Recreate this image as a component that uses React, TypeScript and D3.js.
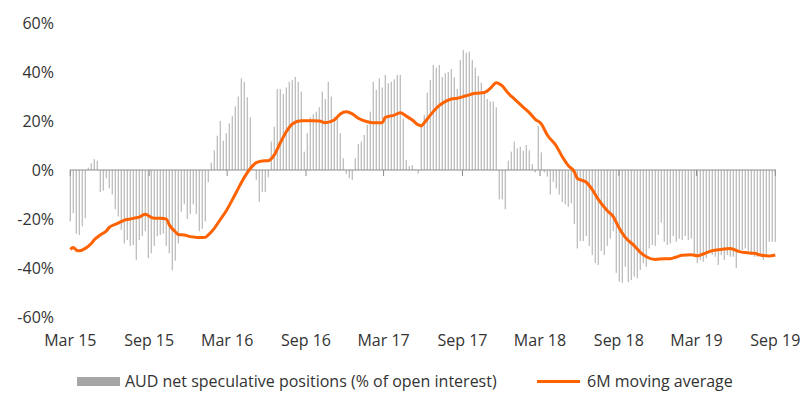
import React from "react";
import * as d3 from "d3";

// weekly CFTC AUD net speculative positions, % of open interest
// (first bar is 3 Mar 2015, one value per week)
const netPosA = [
  -21, -17.6, -26, -26.5, -23, -19.7, 1, 2.7, 4.4, 3.8,
  -9, -8.4, -3.4, -7.5, -10, -16, -19, -24.5, -30, -28.6,
  -31, -30.6, -36.7, -28.6, -27, -25, -36, -34, -31, -27,
  -26.5, -26, -31, -34, -41, -37, -30, -17, -14, -20,
  -18, -14, -18, -25, -24, -21, -5, 3, 8, 14,
  20, 12, 15, 19, 22, 26, 30,
];
const netPosB = [
  37.4, 36, 29.7, 21.5, 0.5, -4, -13, -9, -9, -3,
  11.6, 17.7, 33, 33, 31, 33.7, 36, 36.7, 38, 36,
  32, 7.5, 15, 21.5, 22.7, 23.8, 25.6, 32, 29, 36,
  30, 21.8, 22, 15, 4.8, -1.6, -3.4, -4, 4.8, 10.6,
  11.6, 14.3, 18.4, 23.8, 36, 32.7, 37.4, 33.7, 38.8, 35.4,
  36, 37, 38.8, 38.8, 21, 4, 1.6, 2, 0.3, -1.4,
];
const netPosC = [
  18, 22.4, 31.6, 36.7, 42.9, 41.8, 42.9, 38, 39.5, 40,
  41.2, 37.8, 33, 44.9, 49, 47.9, 48.3, 45, 41.8, 38.4,
  35.6, 32, 29, 28, 28, 25.6, -12, -12, -16, 3.8,
  7.5, 11.6, 8.8, 9.5, 7.8, 10.2, 8, 2.4, -1, 18,
  7.2, -1, -2.7, -10, -4.8, -7.5, -10, -13, -14, -15,
  -13.6, -22, -32,
];
const netPosD = [
  -29, -29, -27, -31, -34.7, -38, -38.8, -33, -34.7, -31,
  -28, -25, -42, -45.6, -46, -39.5, -45.8, -44.9, -43.5, -44.2,
  -40.8, -38, -39.5, -32, -30.6, -31, -26.5, -21.5, -29.3, -30.6,
  -30, -27, -29.3, -28, -28.6, -27, -28.6, -28, -35.4, -38,
  -36.7, -37.4, -36, -33, -34.7, -35.4, -38.8, -34.7, -36.7, -34.7,
  -35.4, -35.4, -40, -33, -32.7, -32, -33, -34.7, -35.4, -35.4,
  -34.7, -36.7, -34.7, -29.3, -29.3, -29.3,
];

// 6M moving average at these week numbers
const maWeek = [
  0, 1, 2, 3, 5, 7, 8, 10, 12, 13, 15, 17, 18, 20, 22, 23, 24, 25, 27, 28,
  30, 32, 33, 35, 36, 38, 40, 42, 43, 45, 46, 48, 50, 52, 54, 56, 58, 60, 62, 64,
  66, 68, 70, 72, 74, 77, 79, 81, 83, 85, 88, 90, 92, 94, 96, 99, 101, 104, 105, 108,
  110, 112, 114, 116, 117, 118, 120, 122, 124, 127, 129, 132, 135, 138, 140, 142, 144, 146, 148, 151,
  153, 155, 157, 159, 162, 164, 166, 168, 169, 172, 174, 176, 179, 181, 183, 185, 188, 190, 192, 195,
  198, 200, 202, 204, 207, 209, 211, 214, 217, 220, 223, 225, 228, 230, 233, 235,
];
const maValue = [
  -32.4, -31.6, -32.7, -33, -32, -30, -28.5, -26.5, -24.9, -23.4, -22.2, -21.1, -20.5, -20, -19.5, -19.2, -18.5, -18.1, -19.3, -19.7,
  -19.7, -20, -22.4, -25.2, -26.3, -26.5, -27.2, -27.5, -27.6, -27.5, -26.5, -23.8, -20.2, -16.6, -12.2, -7.5, -3, 0.6, 3, 3.7,
  3.8, 6.2, 11.1, 15.6, 18.8, 20.1, 20.1, 20.1, 20, 19.3, 20.4, 22.9, 23.8, 22.9, 21.1, 19.7, 19.3, 19.3, 21.5, 22.4,
  23.4, 22, 20.4, 18.4, 18, 19.3, 22.4, 25.2, 27.2, 29, 29.3, 30.3, 31.3, 31.6, 33.3, 35.6, 34.3, 31.3, 29, 25.6,
  23.4, 20.7, 18.8, 14.3, 9.8, 5.4, 1.8, -0.7, -3.4, -5, -8, -12, -16.6, -19, -23.8, -27.5, -30.9, -33.6, -35.4, -36.5,
  -36.2, -36.2, -35.5, -34.8, -34.6, -35, -34.3, -32.9, -32.4, -32, -33.3, -33.7, -34, -34.7, -35.1, -34.7,
];

const yTicks = [60, 40, 20, 0, -20, -40, -60];
const xTickDates = [
  "2015-03-03", "2015-09-03", "2016-03-03", "2016-09-03", "2017-03-03",
  "2017-09-03", "2018-03-03", "2018-09-03", "2019-03-03", "2019-09-03",
];
const xTickLabels = [
  "Mar 15", "Sep 15", "Mar 16", "Sep 16", "Mar 17",
  "Sep 17", "Mar 18", "Sep 18", "Mar 19", "Sep 19",
];

const W = 800;
const H = 412;
const font = "'Open Sans', 'Liberation Sans', sans-serif";
const textColor = "#333333";
const orange = "#ff6200";

const start = new Date(2015, 2, 3);
const weekDate = (w: number) => d3.timeDay.offset(start, w * 7);

export default function App() {
  const netPos = [...netPosA, ...netPosB, ...netPosC, ...netPosD];
  const bars = netPos.map((v, i) => ({ date: weekDate(i), v }));
  const ma = maWeek.map((w, i) => ({ date: weekDate(w), v: maValue[i] }));

  const x = d3
    .scaleTime()
    .domain([start, weekDate(netPos.length - 1)])
    .range([70.3, 775.3]);
  const y = d3.scaleLinear().domain([-60, 60]).range([317, 23]);
  const y0 = y(0);

  const line = d3
    .line<{ date: Date; v: number }>()
    .x((d) => x(d.date))
    .y((d) => y(d.v))
    .curve(d3.curveMonotoneX);

  const parse = d3.timeParse("%Y-%m-%d");

  return (
    <div style={{ position: "fixed", left: 0, top: 0 }}>
      <svg width={W} height={H} style={{ display: "block", background: "#fff" }}>
        {/* bars */}
        <g fill="#bdbdbd">
          {bars.map((d, i) => {
            const yy = y(d.v);
            return (
              <rect
                key={i}
                x={x(d.date) - 0.65}
                width={1.3}
                y={Math.min(yy, y0)}
                height={Math.abs(yy - y0)}
              />
            );
          })}
        </g>

        {/* zero axis + ticks */}
        <line x1={70} x2={776} y1={y0} y2={y0} stroke="#8c8c8c" strokeWidth={1} />
        {xTickDates.map((s, i) => {
          const xx = x(parse(s) as Date);
          return (
            <g key={s}>
              <line x1={xx} x2={xx} y1={y0} y2={y0 + 6} stroke="#8c8c8c" strokeWidth={1} />
              <text
                x={xx}
                y={346}
                textAnchor="middle"
                fontFamily={font}
                fontSize={16}
                fill={textColor}
              >
                {xTickLabels[i]}
              </text>
            </g>
          );
        })}

        {/* y labels */}
        {yTicks.map((t) => (
          <text
            key={t}
            x={54}
            y={y(t) + 6}
            textAnchor="end"
            fontFamily={font}
            fontSize={16}
            fill={textColor}
          >
            {t + "%"}
          </text>
        ))}

        {/* moving average */}
        <path d={line(ma) || ""} fill="none" stroke={orange} strokeWidth={3} strokeLinejoin="round" />

        {/* legend */}
        <rect x={77} y={377} width={43} height={9} fill="#a6a6a6" />
        <text x={125} y={387} fontFamily={font} fontSize={16} fill={textColor}>
          AUD net speculative positions (% of open interest)
        </text>
        <line x1={537} x2={580} y1={381.5} y2={381.5} stroke={orange} strokeWidth={3} />
        <text x={587} y={387} fontFamily={font} fontSize={16} fill={textColor}>
          6M moving average
        </text>
      </svg>
    </div>
  );
}
